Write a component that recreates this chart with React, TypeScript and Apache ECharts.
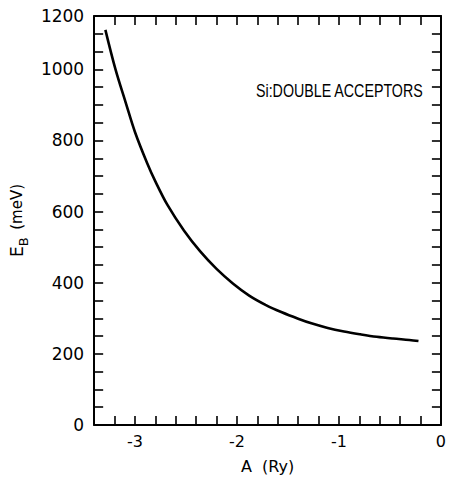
import React, { useEffect, useRef } from "react";
import * as echarts from "echarts";

// Curve: A (Ry) vs E_B (meV)
const aValues = [-3.29, -3.19, -3.09, -3.0, -2.88, -2.8, -2.68, -2.52, -2.36, -2.2, -2.04, -1.88, -1.72, -1.56, -1.4, -1.27, -1.11, -0.95, -0.79, -0.63, -0.47, -0.31, -0.22];
const ebValues = [1111, 999, 906, 824, 736, 685, 618, 547, 488, 439, 398, 364, 338, 317, 299, 286, 273, 263, 255, 248, 243, 239, 236];

const yLabelValues = [0, 200, 400, 600, 800, 1000];
const yTopLabel = "1200";
const xAxisName = "A  (Ry)";
const annotation = "Si:DOUBLE ACCEPTORS";

const FONT = "DejaVu Sans";

export default function App() {
  const ref = useRef<HTMLDivElement>(null);
  useEffect(() => {
    if (!ref.current) return;
    const chart = echarts.init(ref.current, null, { renderer: "svg" });
    const data = aValues.map((a, i) => [a, ebValues[i]]);
    const axisLine = { show: true, onZero: false, lineStyle: { color: "#000", width: 2 } };
    const tick = { show: true, inside: true, length: 9, lineStyle: { color: "#000", width: 1.6 } };
    const xBase = { type: "value" as const, min: -3.4, max: 0, interval: 0.2, splitLine: { show: false } };
    const yBase = { type: "value" as const, min: 0, max: 1150, interval: 50, splitLine: { show: false } };
    chart.setOption({
      animation: false,
      backgroundColor: "#fff",
      grid: { left: 91, right: 3, top: 16, bottom: 52, containLabel: false },
      xAxis: [
        {
          ...xBase,
          position: "bottom",
          axisLine,
          axisTick: tick,
          axisLabel: {
            color: "#000",
            fontFamily: FONT,
            fontSize: 16,
            margin: 8,
            showMaxLabel: true,
            formatter: (v: number) => (Math.abs(v - Math.round(v)) < 1e-6 ? String(Math.round(v)) : ""),
          },
          name: xAxisName,
          nameLocation: "middle",
          nameGap: 33,
          nameTextStyle: { color: "#000", fontFamily: FONT, fontSize: 16 },
        },
        { ...xBase, position: "top", axisLine, axisTick: tick, axisLabel: { show: false } },
      ],
      yAxis: [
        {
          ...yBase,
          position: "left",
          axisLine,
          axisTick: tick,
          axisLabel: {
            color: "#000",
            fontFamily: FONT,
            fontSize: 17,
            margin: 10,
            showMaxLabel: true,
            formatter: (v: number) => {
              if (v === 1150) return yTopLabel;
              return yLabelValues.includes(v) ? String(v) : "";
            },
          },
          name: "{e|E}{s|B}  {u|(meV)}",
          nameLocation: "middle",
          nameRotate: 90,
          nameGap: 62,
          nameTextStyle: {
            color: "#000",
            fontFamily: FONT,
            rich: {
              e: { fontSize: 17, fontFamily: FONT, color: "#000" },
              s: { fontSize: 13, fontFamily: FONT, color: "#000", padding: [14, 0, 0, 0] },
              u: { fontSize: 15, fontFamily: FONT, color: "#000" },
            },
          },
        },
        { ...yBase, position: "right", axisLine, axisTick: tick, axisLabel: { show: false } },
      ],
      graphic: [
        {
          type: "text",
          x: 256,
          y: 91,
          scaleX: 0.75,
          style: {
            text: annotation,
            fontFamily: "Liberation Sans",
            fontSize: 19,
            fill: "#000",
            textAlign: "left",
            textVerticalAlign: "middle",
          },
        },
      ],
      series: [
        {
          type: "line",
          data,
          smooth: 0.35,
          showSymbol: false,
          lineStyle: { color: "#000", width: 2.6 },
        },
      ],
    });
    return () => chart.dispose();
  }, []);
  return <div ref={ref} style={{ position: "fixed", left: 0, top: 0, width: 449, height: 479 }} />;
}
